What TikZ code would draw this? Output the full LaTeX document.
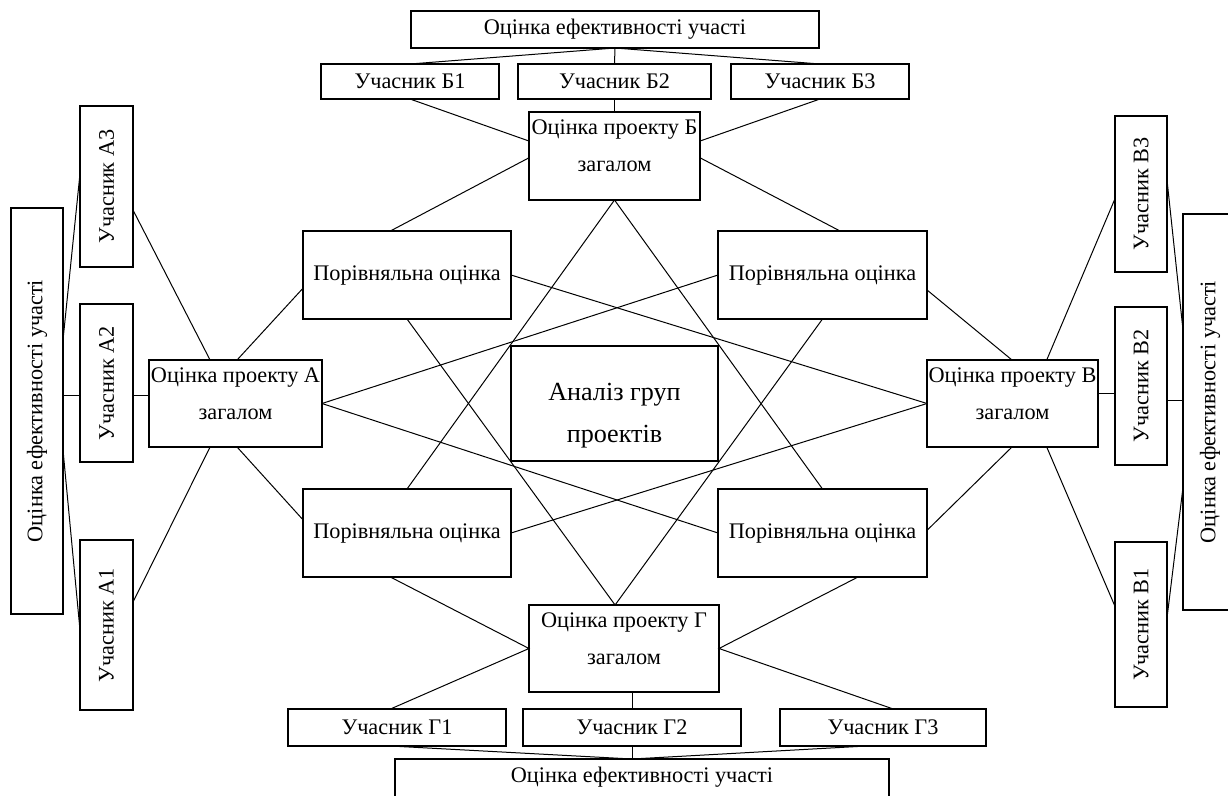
\documentclass[tikz,border=0pt]{standalone}
\usepackage{fontspec}
\setmainfont{Liberation Serif}
\usetikzlibrary{calc}
\newcommand\lblfont{\fontsize{16.7}{20}\selectfont}
\newcommand\ctrfont{\fontsize{19.6}{24}\selectfont}
\newcommand\mkbox[6]{\node[bx, minimum width={(#4-#2)*0.75pt}, minimum height={(#5-#3)*0.75pt}] (#1) at ({(#2+#4)/2},{(#3+#5)/2}) {#6};}
\begin{document}
\begin{tikzpicture}[x=0.75pt,y=-0.75pt,
  bx/.style={draw, line width=0.8pt, inner sep=0pt, outer sep=0pt, font=\lblfont, align=center},
  ln/.style={line width=0.75pt},
  vtxt/.style={rotate=90, font=\lblfont, inner sep=0pt},
  tx/.style={font=\lblfont, inner sep=0pt, anchor=base},
  ctx/.style={font=\ctrfont, inner sep=0pt, anchor=base}]
\useasboundingbox (0,0) rectangle (1228,796);
\clip (0,0) rectangle (1228,796);

% ---- top group
\mkbox{T}{411}{11}{819}{48}{Оцінка ефективності участі}
\mkbox{B1}{321}{64}{499}{99}{Учасник Б1}
\mkbox{B2}{518}{64}{711}{99}{Учасник Б2}
\mkbox{B3}{731}{64}{909}{99}{Учасник Б3}
\mkbox{PB}{529}{112}{700}{200}{}
\node[tx] (PBt1) at (614.5,134) {Оцінка проекту Б};
\node[tx] (PBt2) at (614.5,171) {загалом};

% ---- comparison boxes and centre
\mkbox{UL}{303}{231}{511}{319}{Порівняльна оцінка}
\mkbox{UR}{718}{231}{927}{319}{Порівняльна оцінка}
\mkbox{LL}{303}{489}{511}{577}{Порівняльна оцінка}
\mkbox{LR}{718}{489}{927}{577}{Порівняльна оцінка}
\mkbox{C}{511}{346}{718}{461}{}
\node[ctx] (Ct1) at (614.5,400.5) {Аналіз груп};
\node[ctx] (Ct2) at (614.5,442) {проектів};

% ---- project A / V
\mkbox{PA}{149}{360}{322}{447}{}
\node[tx] (PAt1) at (235.5,382) {Оцінка проекту А};
\node[tx] (PAt2) at (235.5,419) {загалом};
\mkbox{PV}{927}{360}{1098}{447}{}
\node[tx] (PVt1) at (1012.5,382) {Оцінка проекту В};
\node[tx] (PVt2) at (1012.5,419) {загалом};

% ---- bottom group
\mkbox{PG}{529}{605}{719}{692}{}
\node[tx] (PGt1) at (624,627) {Оцінка проекту Г};
\node[tx] (PGt2) at (624,664) {загалом};
\mkbox{G1}{288}{709}{506}{746}{Учасник Г1}
\mkbox{G2}{523}{709}{741}{746}{Учасник Г2}
\mkbox{G3}{780}{709}{986}{746}{Учасник Г3}
\mkbox{BOT}{395}{759}{889}{800}{}
\node[font=\lblfont, inner sep=0pt] (BOTt) at (642,777) {Оцінка ефективності участі};

% ---- left column
\mkbox{LB}{11}{208}{63}{614}{}
\node[vtxt] (LBt) at (LB.center) {Оцінка ефективності участі};
\mkbox{A3}{80}{106}{133}{267}{}
\node[vtxt] (A3t) at (A3.center) {Учасник А3};
\mkbox{A2}{80}{304}{133}{462}{}
\node[vtxt] (A2t) at (A2.center) {Учасник А2};
\mkbox{A1}{80}{540}{133}{710}{}
\node[vtxt] (A1t) at (A1.center) {Учасник А1};

% ---- right column
\mkbox{V3}{1115}{116}{1167}{272}{}
\node[vtxt] (V3t) at (V3.center) {Учасник В3};
\mkbox{V2}{1115}{307}{1167}{465}{}
\node[vtxt] (V2t) at (V2.center) {Учасник В2};
\mkbox{V1}{1115}{542}{1167}{707}{}
\node[vtxt] (V1t) at (V1.center) {Учасник В1};
\mkbox{RB}{1183}{214}{1237}{610}{}
\node[vtxt] (RBt) at (RB.center) {Оцінка ефективності участі};

% ==== connectors
% top
\draw[ln] (T.south) -- (B1.north);
\draw[ln] (T.south) -- (B2.north);
\draw[ln] (T.south) -- (B3.north);
\draw[ln] (B1.south) -- ($(PB.north west)!0.33!(PB.south west)$);
\draw[ln] (B2.south) -- (B2.south |- PB.north);
\draw[ln] (B3.south) -- ($(PB.north east)!0.33!(PB.south east)$);
\draw[ln] ($(PB.north west)!0.52!(PB.south west)$) -- ($(UL.north west)!0.42!(UL.north east)$);
\draw[ln] ($(PB.north east)!0.52!(PB.south east)$) -- ($(UR.north west)!0.584!(UR.north east)$);
\draw[ln] (PB.south) -- (LL.north);
\draw[ln] (PB.south) -- (LR.north);

% bottom
\coordinate (Gtop) at ($(PG.north west)!0.453!(PG.north east)$);
\draw[ln] (UL.south) -- (Gtop) -- (UR.south);
\draw[ln] ($(LL.south west)!0.42!(LL.south east)$) -- (PG.west) -- ($(G1.north west)!0.47!(G1.north east)$);
\draw[ln] ($(LR.south west)!0.67!(LR.south east)$) -- (PG.east) -- ($(G3.north west)!0.55!(G3.north east)$);
\draw[ln] (G2.north) -- (G2.north |- PG.south);
\coordinate (Bj) at (G2.south |- BOT.north);
\draw[ln] ($(G1.south west)!0.47!(G1.south east)$) -- (Bj);
\draw[ln] (G2.south) -- (Bj);
\draw[ln] ($(G3.south west)!0.42!(G3.south east)$) -- (Bj);

% star
\draw[ln] (PA.east) -- (UR.west);
\draw[ln] (PA.east) -- (LR.west);
\draw[ln] (PV.west) -- (UL.east);
\draw[ln] (PV.west) -- (LL.east);

% left
\draw[ln] ($(PA.north west)!0.353!(PA.north east)$) -- ($(A3.north east)!0.646!(A3.south east)$);
\draw[ln] ($(PA.north west)!0.509!(PA.north east)$) -- ($(UL.north west)!0.65!(UL.south west)$);
\draw[ln] ($(PA.south west)!0.353!(PA.south east)$) -- ($(A1.north east)!0.365!(A1.south east)$);
\draw[ln] ($(PA.south west)!0.509!(PA.south east)$) -- ($(LL.north west)!0.35!(LL.south west)$);
\coordinate (Ah) at ($(A2.north west)!0.576!(A2.south west)$);
\draw[ln] (LB.east |- Ah) -- (Ah);
\draw[ln] (A2.east |- Ah) -- (PA.west |- Ah);
\draw[ln] ($(LB.north east)!0.325!(LB.south east)$) -- ($(A3.north west)!0.42!(A3.south west)$);
\draw[ln] ($(LB.north east)!0.596!(LB.south east)$) -- ($(A1.north west)!0.53!(A1.south west)$);

% right
\draw[ln] ($(PV.north west)!0.70!(PV.north east)$) -- ($(V3.north west)!0.53!(V3.south west)$);
\draw[ln] ($(PV.north west)!0.497!(PV.north east)$) -- ($(UR.north east)!0.67!(UR.south east)$);
\draw[ln] ($(PV.south west)!0.70!(PV.south east)$) -- ($(V1.north west)!0.39!(V1.south west)$);
\draw[ln] ($(PV.south west)!0.497!(PV.south east)$) -- ($(LR.north east)!0.47!(LR.south east)$);
\coordinate (Vh) at ($(PV.north east)!0.39!(PV.south east)$);
\draw[ln] (Vh) -- (V2.west |- Vh);
\coordinate (Vh2) at ($(V2.north east)!0.589!(V2.south east)$);
\draw[ln] (Vh2) -- (RB.west |- Vh2);
\draw[ln] ($(V3.north east)!0.41!(V3.south east)$) -- ($(RB.north west)!0.293!(RB.south west)$);
\draw[ln] ($(V1.north east)!0.46!(V1.south east)$) -- ($(RB.north west)!0.69!(RB.south west)$);
\end{tikzpicture}
\end{document}
